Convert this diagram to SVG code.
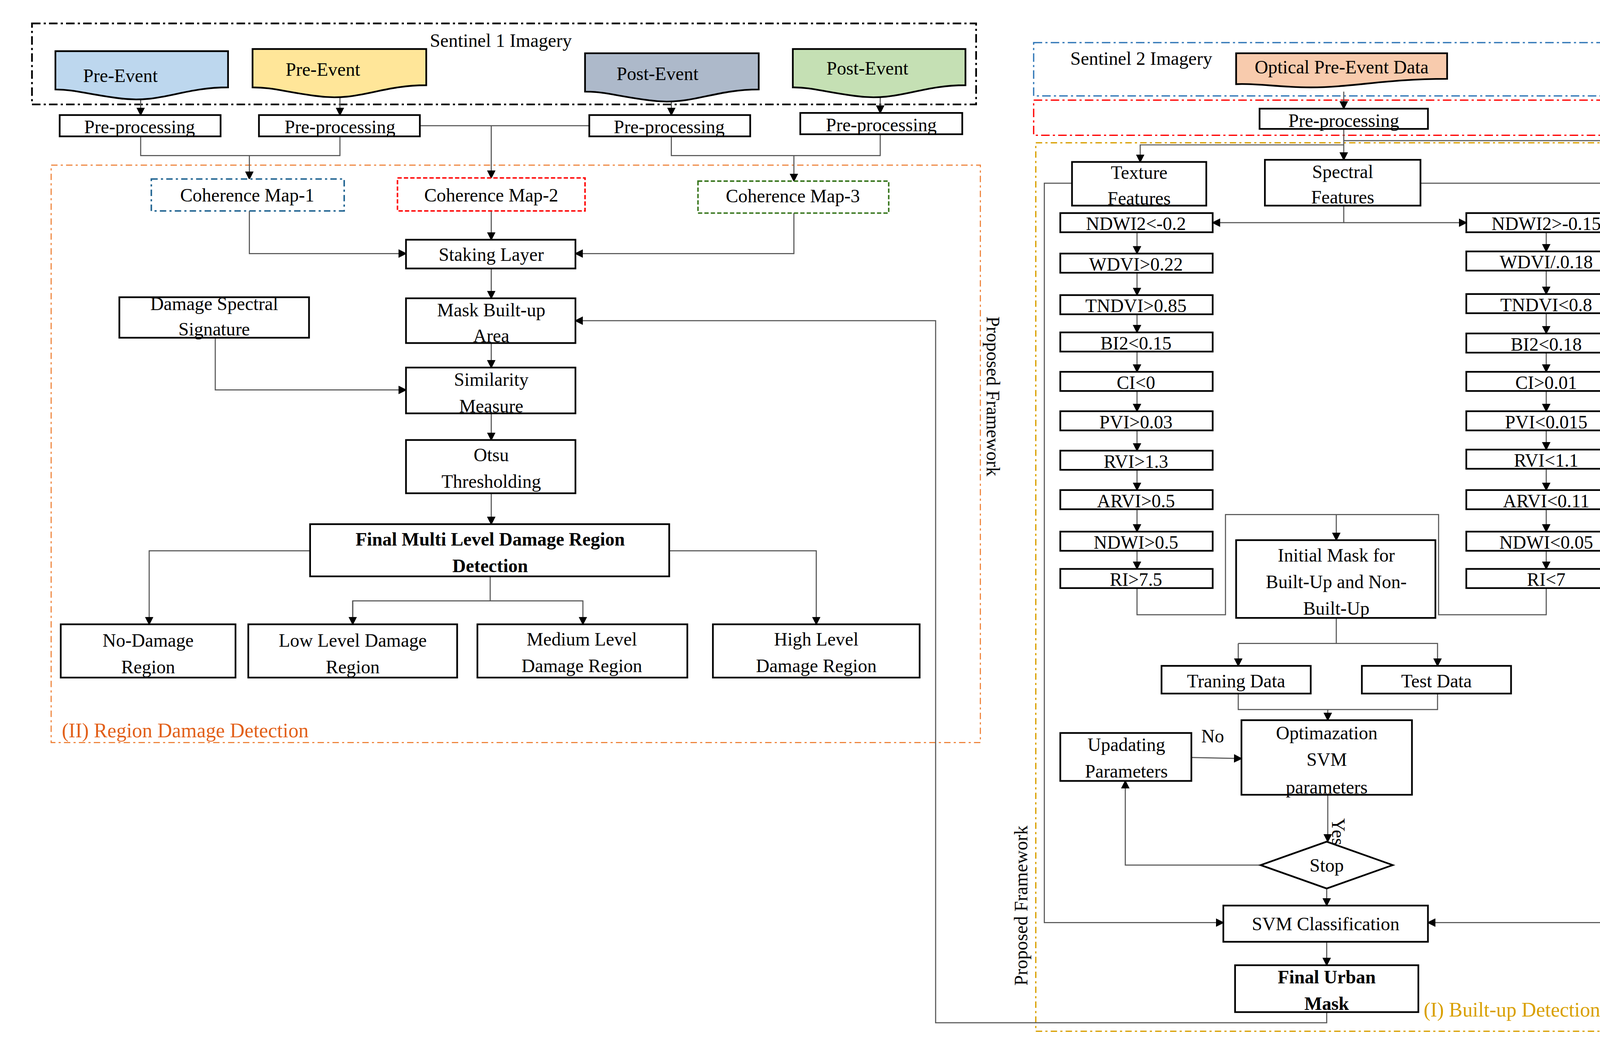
<svg xmlns="http://www.w3.org/2000/svg" width="4275" height="2704" viewBox="0 0 4275 2704">
<style>
.b{fill:#fff;stroke:#000;stroke-width:1.6}
.t{font-family:"Liberation Serif",serif;font-size:17.5px;text-anchor:middle;fill:#000}
.tb{font-weight:bold}
.c{fill:none;stroke:#555;stroke-width:1}
.a{marker-end:url(#ar)}
.doc{stroke:#000;stroke-width:1.6}
</style>
<defs>
<marker id="ar" markerWidth="8" markerHeight="8" refX="7" refY="4" orient="auto" markerUnits="userSpaceOnUse"><path d="M0,0 L8,4 L0,8 Z" fill="#000"/></marker>
</defs>
<rect width="4275" height="2704" fill="#fff"/>
<g transform="scale(2.728)">
<g id="frames">
<rect x="30" y="22" width="886" height="76" fill="none" stroke="#000" stroke-width="1.6" stroke-dasharray="8,3,2,3"/>
<text class="t" x="470" y="44">Sentinel 1 Imagery</text>
<rect x="48" y="155" width="872" height="542" fill="none" stroke="#ed7d31" stroke-width="1" stroke-dasharray="6,3,2,3"/>
<text class="t" x="58" y="692" style="text-anchor:start;fill:#e2601a;font-size:19px">(II) Region Damage Detection</text>
<text class="t" x="926" y="372" transform="rotate(90 926 372)">Proposed Framework</text>
<rect x="970" y="40" width="575" height="50" fill="none" stroke="#2e75b6" stroke-width="1.2" stroke-dasharray="8,3,2,3"/>
<text class="t" x="1071" y="61">Sentinel 2 Imagery</text>
<rect x="970" y="94" width="575" height="33" fill="none" stroke="#ff0000" stroke-width="1.2" stroke-dasharray="8,3,2,3"/>
<rect x="972" y="134" width="573" height="834" fill="none" stroke="#d9a000" stroke-width="1.2" stroke-dasharray="6,3,2,3"/>
<text class="t" x="1336" y="954" style="text-anchor:start;fill:#d9a000;font-size:19px">(I) Built-up Detection</text>
<text class="t" x="964" y="850" transform="rotate(-90 964 850)">Proposed Framework</text>
</g>
<g id="connectors">
<path class="c a" d="M132,90 V108"/><path class="c a" d="M319,86 V108"/><path class="c a" d="M630,90 V108"/><path class="c a" d="M826,86 V106"/>
<path class="c" d="M132,128 V146 H319 V128"/><path class="c a" d="M234,146 V168"/>
<path class="c" d="M394,118 H553"/><path class="c a" d="M461,118 V167"/>
<path class="c" d="M630,128 V146 H826 V126"/><path class="c a" d="M745,146 V170"/>
<path class="c a" d="M234,198 V238 H381"/><path class="c a" d="M745,200 V238 H540"/><path class="c a" d="M461,198 V225"/>
<path class="c a" d="M461,252 V280"/><path class="c a" d="M461,322 V345"/><path class="c a" d="M202,317 V366 H381"/>
<path class="c a" d="M461,388 V413"/><path class="c a" d="M461,463 V492"/>
<path class="c a" d="M291,517 H140 V586"/><path class="c a" d="M628,517 H766 V586"/>
<path class="c" d="M460,541 V564 H331 V586"/><path class="c a" d="M331,564 V586"/><path class="c a" d="M460,564 H547 V586"/>
<path class="c a" d="M1245,950 V960 H878 V301 H540"/>
<path class="c a" d="M1261,86 V102"/>
<path class="c a" d="M1261,121 V150"/><path class="c a" d="M1261,136 H1070 V152"/>
<path class="c a" d="M1261,132 H1535 V866 H1340"/><path class="c" d="M1333,172 H1528 V866"/>
<path class="c a" d="M1006,172 H980 V866 H1148"/>
<path class="c a" d="M1261,193 V209 H1138"/><path class="c a" d="M1261,209 H1376"/>
<path class="c a" d="M1067,218 V238"/><path class="c a" d="M1067,256 V277"/><path class="c a" d="M1067,295 V312"/><path class="c a" d="M1067,330 V349"/><path class="c a" d="M1067,367 V386"/><path class="c a" d="M1067,404 V423"/><path class="c a" d="M1067,441 V460"/><path class="c a" d="M1067,478 V499"/><path class="c a" d="M1067,517 V534"/>
<path class="c a" d="M1451,218 V236"/><path class="c a" d="M1451,254 V276"/><path class="c a" d="M1451,294 V313"/><path class="c a" d="M1451,331 V349"/><path class="c a" d="M1451,367 V386"/><path class="c a" d="M1451,404 V422"/><path class="c a" d="M1451,440 V460"/><path class="c a" d="M1451,478 V499"/><path class="c a" d="M1451,517 V534"/>
<path class="c" d="M1067,552 V577 H1150 V483 H1350 V577 H1451 V552"/><path class="c a" d="M1254,483 V507"/>
<path class="c" d="M1254,580 V604 H1162"/><path class="c a" d="M1162,604 V625"/><path class="c a" d="M1254,604 H1349 V625"/>
<path class="c" d="M1162,651 V666 H1349 V651"/><path class="c a" d="M1246,666 V676"/>
<path class="c a" d="M1118,711 L1165,712"/>
<text class="t" x="1138" y="697">No</text>
<path class="c a" d="M1246,746 V790"/>
<text class="t" x="1250" y="768" transform="rotate(90 1250 768)" style="text-anchor:start">Yes</text>
<path class="c a" d="M1183,812 H1056 V733"/>
<path class="c a" d="M1245,834 V850"/><path class="c a" d="M1245,884 V906"/>
</g>
<g id="n-pre1"><path class="doc" fill="#bdd7ee" d="M52,48 H214 V82 C170,82 150,98 110,92 C80,88 70,84 52,84 Z"/><text class="t" x="113" y="77">Pre-Event</text></g>
<g id="n-pre2"><path class="doc" fill="#ffe699" d="M237,46 H400 V80 C356,80 336,96 296,90 C266,86 256,82 237,82 Z"/><text class="t" x="303" y="71">Pre-Event</text></g>
<g id="n-post1"><path class="doc" fill="#adb9ca" d="M549,50 H712 V84 C668,84 648,100 608,94 C578,90 568,86 549,86 Z"/><text class="t" x="617" y="75">Post-Event</text></g>
<g id="n-post2"><path class="doc" fill="#c5e0b4" d="M744,46 H906 V80 C862,80 842,96 802,90 C772,86 762,82 744,82 Z"/><text class="t" x="814" y="70">Post-Event</text></g>
<g id="n-pp1"><rect class="b" x="56" y="108" width="151" height="20"/><text class="t" x="131" y="125">Pre-processing</text></g>
<g id="n-pp2"><rect class="b" x="243" y="108" width="151" height="20"/><text class="t" x="319" y="125">Pre-processing</text></g>
<g id="n-pp3"><rect class="b" x="553" y="108" width="151" height="20"/><text class="t" x="628" y="125">Pre-processing</text></g>
<g id="n-pp4"><rect class="b" x="751" y="106" width="152" height="20"/><text class="t" x="827" y="123">Pre-processing</text></g>
<g id="n-cm1"><rect x="142" y="168" width="181" height="30" fill="#fff" stroke="#1f6391" stroke-width="1.4" stroke-dasharray="6,3,2,3"/><text class="t" x="232" y="189">Coherence Map-1</text></g>
<g id="n-cm2"><rect x="373" y="167" width="176" height="31" fill="#fff" stroke="#ff0000" stroke-width="1.4" stroke-dasharray="4,2"/><text class="t" x="461" y="189">Coherence Map-2</text></g>
<g id="n-cm3"><rect x="655" y="170" width="179" height="30" fill="#fff" stroke="#38761d" stroke-width="1.4" stroke-dasharray="4,2"/><text class="t" x="744" y="190">Coherence Map-3</text></g>
<g id="n-stack"><rect class="b" x="381" y="225" width="159" height="27"/><text class="t" x="461" y="245">Staking Layer</text></g>
<g id="n-mask"><rect class="b" x="381" y="280" width="159" height="42"/><text class="t" x="461" y="297">Mask Built-up</text><text class="t" x="461" y="321">Area</text></g>
<g id="n-dss"><rect class="b" x="112" y="279" width="178" height="38"/><text class="t" x="201" y="291">Damage Spectral</text><text class="t" x="201" y="315">Signature</text></g>
<g id="n-sim"><rect class="b" x="381" y="345" width="159" height="43"/><text class="t" x="461" y="362">Similarity</text><text class="t" x="461" y="387">Measure</text></g>
<g id="n-otsu"><rect class="b" x="381" y="413" width="159" height="50"/><text class="t" x="461" y="433">Otsu</text><text class="t" x="461" y="458">Thresholding</text></g>
<g id="n-final"><rect class="b" x="291" y="492" width="337" height="49"/><text class="t tb" x="460" y="512">Final Multi Level Damage Region</text><text class="t tb" x="460" y="537">Detection</text></g>
<g id="n-nd"><rect class="b" x="57" y="586" width="164" height="50"/><text class="t" x="139" y="607">No-Damage</text><text class="t" x="139" y="632">Region</text></g>
<g id="n-ld"><rect class="b" x="233" y="586" width="196" height="50"/><text class="t" x="331" y="607">Low Level Damage</text><text class="t" x="331" y="632">Region</text></g>
<g id="n-md"><rect class="b" x="448" y="586" width="197" height="50"/><text class="t" x="546" y="606">Medium Level</text><text class="t" x="546" y="631">Damage Region</text></g>
<g id="n-hd"><rect class="b" x="669" y="586" width="194" height="50"/><text class="t" x="766" y="606">High Level</text><text class="t" x="766" y="631">Damage Region</text></g>
<g id="n-opt"><path class="doc" fill="#f8cbad" d="M1160,50 H1358 V74 C1300,74 1270,82 1230,82 C1200,82 1180,78 1160,79 Z"/><text class="t" x="1259" y="69">Optical Pre-Event Data</text></g>
<g id="n-pp5"><rect class="b" x="1182" y="102" width="158" height="19"/><text class="t" x="1261" y="119">Pre-processing</text></g>
<g id="n-tex"><rect class="b" x="1006" y="152" width="126" height="41"/><text class="t" x="1069" y="168">Texture</text><text class="t" x="1069" y="192">Features</text></g>
<g id="n-spec"><rect class="b" x="1187" y="150" width="146" height="43"/><text class="t" x="1260" y="167">Spectral</text><text class="t" x="1260" y="191">Features</text></g>
<g id="left-col">
<g id="l1"><rect class="b" x="995" y="200" width="143" height="18"/><text class="t" x="1066" y="216">NDWI2&lt;-0.2</text></g>
<g id="l2"><rect class="b" x="995" y="238" width="143" height="18"/><text class="t" x="1066" y="254">WDVI&gt;0.22</text></g>
<g id="l3"><rect class="b" x="995" y="277" width="143" height="18"/><text class="t" x="1066" y="293">TNDVI&gt;0.85</text></g>
<g id="l4"><rect class="b" x="995" y="312" width="143" height="18"/><text class="t" x="1066" y="328">BI2&lt;0.15</text></g>
<g id="l5"><rect class="b" x="995" y="349" width="143" height="18"/><text class="t" x="1066" y="365">CI&lt;0</text></g>
<g id="l6"><rect class="b" x="995" y="386" width="143" height="18"/><text class="t" x="1066" y="402">PVI&gt;0.03</text></g>
<g id="l7"><rect class="b" x="995" y="423" width="143" height="18"/><text class="t" x="1066" y="439">RVI&gt;1.3</text></g>
<g id="l8"><rect class="b" x="995" y="460" width="143" height="18"/><text class="t" x="1066" y="476">ARVI&gt;0.5</text></g>
<g id="l9"><rect class="b" x="995" y="499" width="143" height="18"/><text class="t" x="1066" y="515">NDWI&gt;0.5</text></g>
<g id="l10"><rect class="b" x="995" y="534" width="143" height="18"/><text class="t" x="1066" y="550">RI&gt;7.5</text></g>
</g>
<g id="right-col">
<g id="r1"><rect class="b" x="1376" y="200" width="150" height="18"/><text class="t" x="1451" y="216">NDWI2&gt;-0.15</text></g>
<g id="r2"><rect class="b" x="1376" y="236" width="150" height="18"/><text class="t" x="1451" y="252">WDVI/.0.18</text></g>
<g id="r3"><rect class="b" x="1376" y="276" width="150" height="18"/><text class="t" x="1451" y="292">TNDVI&lt;0.8</text></g>
<g id="r4"><rect class="b" x="1376" y="313" width="150" height="18"/><text class="t" x="1451" y="329">BI2&lt;0.18</text></g>
<g id="r5"><rect class="b" x="1376" y="349" width="150" height="18"/><text class="t" x="1451" y="365">CI&gt;0.01</text></g>
<g id="r6"><rect class="b" x="1376" y="386" width="150" height="18"/><text class="t" x="1451" y="402">PVI&lt;0.015</text></g>
<g id="r7"><rect class="b" x="1376" y="422" width="150" height="18"/><text class="t" x="1451" y="438">RVI&lt;1.1</text></g>
<g id="r8"><rect class="b" x="1376" y="460" width="150" height="18"/><text class="t" x="1451" y="476">ARVI&lt;0.11</text></g>
<g id="r9"><rect class="b" x="1376" y="499" width="150" height="18"/><text class="t" x="1451" y="515">NDWI&lt;0.05</text></g>
<g id="r10"><rect class="b" x="1376" y="534" width="150" height="18"/><text class="t" x="1451" y="550">RI&lt;7</text></g>
</g>
<g id="n-init"><rect class="b" x="1160" y="507" width="187" height="73"/><text class="t" x="1254" y="527">Initial Mask for</text><text class="t" x="1254" y="552">Built-Up and Non-</text><text class="t" x="1254" y="577">Built-Up</text></g>
<g id="n-train"><rect class="b" x="1090" y="625" width="140" height="26"/><text class="t" x="1160" y="645">Traning Data</text></g>
<g id="n-test"><rect class="b" x="1278" y="625" width="140" height="26"/><text class="t" x="1348" y="645">Test Data</text></g>
<g id="n-upd"><rect class="b" x="995" y="688" width="123" height="45"/><text class="t" x="1057" y="705">Upadating</text><text class="t" x="1057" y="730">Parameters</text></g>
<g id="n-optsvm"><rect class="b" x="1165" y="676" width="160" height="70"/><text class="t" x="1245" y="694">Optimazation</text><text class="t" x="1245" y="719">SVM</text><text class="t" x="1245" y="745">parameters</text></g>
<g id="n-stop"><polygon class="b" points="1245,790 1307,812 1245,834 1183,812"/><text class="t" x="1245" y="818">Stop</text></g>
<g id="n-svm"><rect class="b" x="1148" y="850" width="192" height="34"/><text class="t" x="1244" y="873">SVM Classification</text></g>
<g id="n-fum"><rect class="b" x="1159" y="906" width="172" height="44"/><text class="t tb" x="1245" y="923">Final Urban</text><text class="t tb" x="1245" y="948">Mask</text></g>
</g>
</svg>
